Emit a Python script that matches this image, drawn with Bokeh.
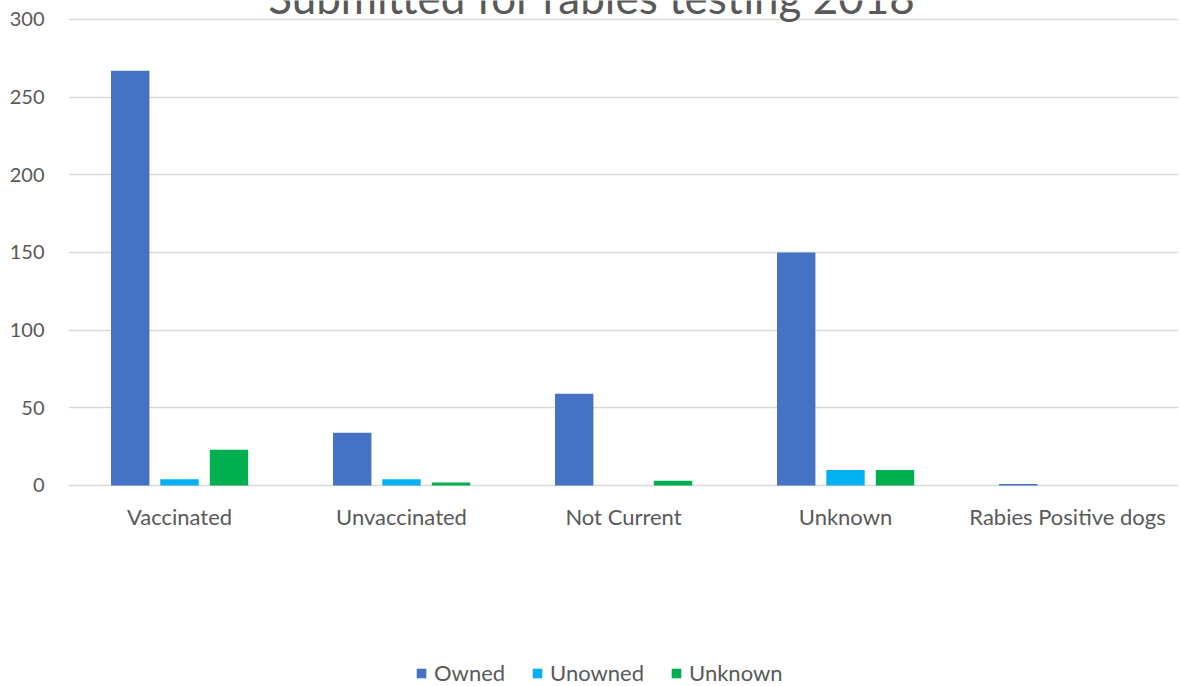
from bokeh.plotting import figure
from bokeh.models import ColumnDataSource, Range1d, FixedTicker, Legend, LegendItem
from bokeh.transform import dodge
from bokeh.core.properties import value
from bokeh.embed import file_html
from bokeh.resources import INLINE

categories = ["Vaccinated", "Unvaccinated", "Not Current", "Unknown", "Rabies Positive dogs"]
owned = [267, 34, 59, 150, 1]
unowned = [4, 4, 0, 10, 0]
unknown = [23, 2, 3, 10, 0]
series_names = ["Owned", "Unowned", "Unknown"]
colors = ["#4472C4", "#00B0F0", "#00B050"]
title_text = "Submitted for rabies testing 2018"
y_ticks = [0, 50, 100, 150, 200, 250, 300]

pos = [i + 0.5 for i in range(len(categories))]
src = ColumnDataSource(dict(x=pos, owned=owned, unowned=unowned, unknown=unknown,
                            cat=categories, zero=[0] * len(categories)))
title_src = ColumnDataSource(dict(x=[2.358], y=[314.8], t=[title_text]))

FONT = "Lato"
TXT = "#595959"
PX = 466 / 300.0  # pixels per unit on the value axis

W, H = 1180, 686
p = figure(width=W, height=H, output_backend="svg", toolbar_location=None,
           x_range=Range1d(0, 5), y_range=Range1d(312.23 - H / PX, 312.23),
           min_border_left=68, min_border_right=2, min_border_top=0, min_border_bottom=0)
p.outline_line_color = None
p.background_fill_color = "white"
p.xaxis.visible = False

p.xgrid.grid_line_color = None
p.ygrid.grid_line_color = "#D9D9D9"
p.ygrid.grid_line_width = 1.5
p.ygrid.ticker = FixedTicker(ticks=y_ticks)

renderers = []
for key, off, col in zip(["owned", "unowned", "unknown"], [-0.222, 0.0, 0.223], colors):
    r = p.vbar(x=dodge("x", off), top=key, width=0.173, bottom=0, source=src,
               fill_color=col, line_color=None)
    renderers.append(r)

# category labels under the baseline
p.text(x="x", y="zero", text="cat", source=src, y_offset=31, text_align="center",
       text_baseline="middle", text_font=value(FONT), text_font_size="22px", text_color=TXT)

# chart title (top part cut off, as in the reference)
p.text(x="x", y="y", text="t", source=title_src, text_align="center",
       text_baseline="alphabetic", text_font=value(FONT), text_font_size="44px", text_color=TXT)

p.yaxis.ticker = FixedTicker(ticks=y_ticks)
p.yaxis.axis_line_color = None
p.yaxis.major_tick_line_color = None
p.yaxis.minor_tick_line_color = None
p.yaxis.major_tick_out = 0
p.yaxis.major_tick_in = 0
p.yaxis.minor_tick_out = 0
p.yaxis.major_label_standoff = 24
p.yaxis.major_label_text_font = FONT
p.yaxis.major_label_text_font_size = "20px"
p.yaxis.major_label_text_color = TXT

legend = Legend(items=[LegendItem(label=n, renderers=[r]) for n, r in zip(series_names, renderers)],
                orientation="horizontal", location=(347, 0),
                glyph_width=12, glyph_height=12, label_standoff=7, spacing=26,
                padding=0, margin=0, border_line_color=None, background_fill_alpha=0,
                label_text_font=FONT, label_text_font_size="22px", label_text_color=TXT)
p.add_layout(legend, "center")

open("out.html", "w").write(file_html(p, INLINE))
